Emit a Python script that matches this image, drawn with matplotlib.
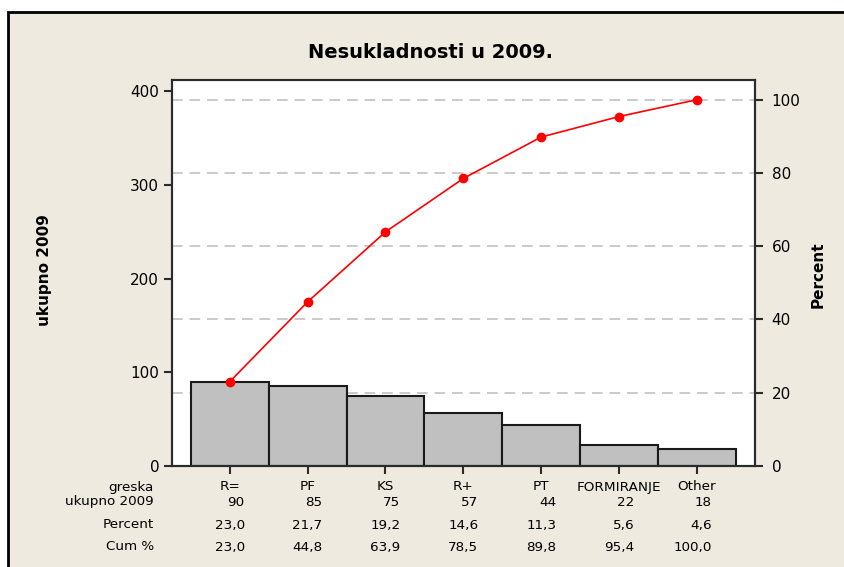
import matplotlib
matplotlib.use('Agg')
import matplotlib.pyplot as plt
from matplotlib.patches import Rectangle
from matplotlib.transforms import offset_copy

# ---- data ----
categories = ['R=', 'PF', 'KS', 'R+', 'PT', 'FORMIRANJE', 'Other']
counts = [90, 85, 75, 57, 44, 22, 18]
percent = [23.0, 21.7, 19.2, 14.6, 11.3, 5.6, 4.6]
cum_percent = [23.0, 44.8, 63.9, 78.5, 89.8, 95.4, 100.0]
left_ticks = [0, 100, 200, 300, 400]
right_ticks = [0, 20, 40, 60, 80, 100]
row_labels = ['greska', 'ukupno 2009', 'Percent', 'Cum %']
title = 'Nesukladnosti u 2009.'

W, H = 845, 567
BG = '#EEEAE0'
DARK = '#2b2b2b'

plt.rcParams['font.family'] = ['DejaVu Sans']

fig = plt.figure(figsize=(W / 100, H / 100), dpi=100, facecolor='white')

# outer beige frame with black border (only top/left visible)
fig.patches.append(Rectangle((8 / W, -1.0), 3.0, 2.0 - 12 / H,
                             transform=fig.transFigure, facecolor=BG,
                             edgecolor='black', linewidth=2, zorder=-10))

ax_l, ax_r, ax_t, ax_b = 171.7, 755.0, 80.0, 466.0
ax = fig.add_axes([ax_l / W, 1 - ax_b / H, (ax_r - ax_l) / W, (ax_b - ax_t) / H])
ax.set_facecolor('white')

total = sum(counts)
ymax = 412.0
x = list(range(len(categories)))

# gridlines (behind bars), at right-axis percent levels
for p in right_ticks[1:]:
    ax.axhline(p / 100 * total, color='#CACACA', lw=1.4, ls=(0, (5.5, 3.5)), zorder=0.5)

ax.bar(x, counts, width=1.0, color='#C0C0C0', edgecolor='#1a1a1a', linewidth=1.5, zorder=2)

ax.set_xlim(-0.745, len(categories) - 1 + 0.745)
ax.set_ylim(0, ymax)
ax.set_yticks(left_ticks)
ax.set_xticks(x)
ax.set_xticklabels([])

ax2 = ax.twinx()
ax2.set_ylim(0, ymax / total * 100)
ax2.set_yticks(right_ticks)
ax2.plot(x, cum_percent, color='#FF0000', lw=1.2, marker='o', markersize=6, zorder=5)

for a in (ax, ax2):
    for s in a.spines.values():
        s.set_color(DARK)
        s.set_linewidth(1.5)
ax.tick_params(axis='y', direction='out', length=6, width=1.5, color=DARK, labelsize=11, pad=3)
ax.tick_params(axis='x', direction='out', length=6, width=1.5, color=DARK)
ax2.tick_params(axis='y', direction='out', length=6, width=1.5, color=DARK, labelsize=11, pad=6)

# ---- table under the axis ----
row_px = [487, 502, 525, 547]
ax_h = ax_b - ax_t
row_y = [(ax_b - r) / ax_h for r in row_px]
fs = 9.7
for lbl, ry in zip(row_labels, row_y):
    ax.text((154 - ax_l) / (ax_r - ax_l), ry, lbl, transform=ax.transAxes,
            ha='right', va='center', fontsize=fs, color='black')

trans = ax.get_xaxis_transform()
trans_r = offset_copy(trans, fig=fig, x=15, y=0, units='dots')
fmt = lambda v: f'{v:.1f}'.replace('.', ',')
for i, cat in enumerate(categories):
    ax.text(i, row_y[0], cat, transform=trans, ha='center', va='center', fontsize=fs)
    ax.text(i, row_y[1], str(counts[i]), transform=trans_r, ha='right', va='center', fontsize=fs)
    ax.text(i, row_y[2], fmt(percent[i]), transform=trans_r, ha='right', va='center', fontsize=fs)
    ax.text(i, row_y[3], fmt(cum_percent[i]), transform=trans_r, ha='right', va='center', fontsize=fs)

# ---- titles and labels ----
fig.text(431 / W, 1 - 53 / H, title, ha='center', va='center', fontsize=14, fontweight='bold')
fig.text(45 / W, 1 - 270 / H, 'ukupno 2009', rotation=90, ha='center', va='center',
         fontsize=11, fontweight='bold')
fig.text(818 / W, 1 - 275 / H, 'Percent', rotation=90, ha='center', va='center',
         fontsize=11, fontweight='bold')

fig.savefig('out.png', dpi=100, facecolor=fig.get_facecolor())
